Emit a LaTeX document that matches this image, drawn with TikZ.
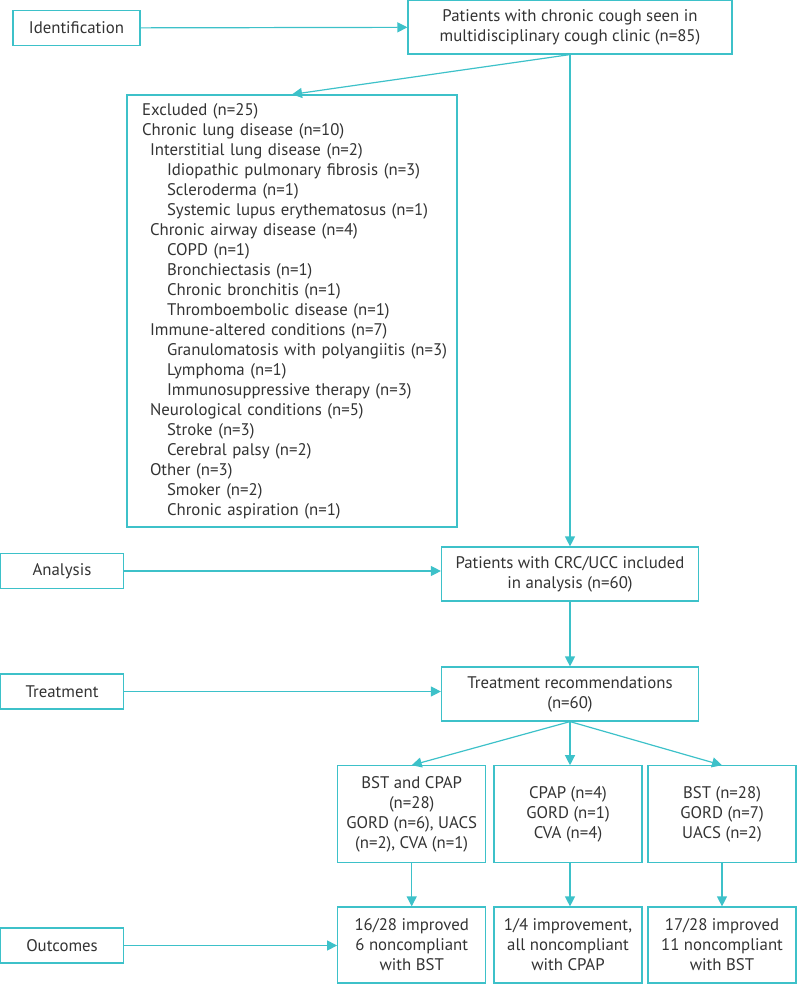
\documentclass[tikz,border=0pt]{standalone}
\usepackage{fontspec}
\setmainfont{PT Sans}
\usetikzlibrary{arrows.meta,positioning}
\definecolor{flowteal}{RGB}{61,193,201}
\definecolor{flowtext}{RGB}{51,51,51}

\begin{document}
\begin{tikzpicture}[
    x=1pt, y=-1pt,
    box/.style={rectangle, draw=flowteal, line width=1.2pt, text=flowtext, font=\fontsize{16.8}{20}\selectfont, align=center, inner sep=0pt},
    stage/.style={box, minimum width=123pt, minimum height=35pt},
    main/.style={box, minimum width=257pt, minimum height=54pt},
    branch/.style={box, minimum width=148pt},
    arrow/.style={-{Triangle[length=10pt,width=10pt]}, line width=1.2pt, flowteal}
]
\useasboundingbox (0,0) rectangle (796,1004);

% Stage labels
\node[stage, minimum width=127pt] (ident) at (76.5,28) {Identification};
\node[stage] (analysis) at (62,571) {Analysis};
\node[stage] (treat) at (62,691.5) {Treatment};
\node[stage] (outcome) at (62,945.5) {Outcomes};

% Main column
\node[main, minimum width=324pt] (seen) at (570,27) {Patients with chronic cough seen in\\multidisciplinary cough clinic (n=85)};
\node[main] (crc) at (570,574) {Patients with CRC/UCC included\\in analysis (n=60)};
\node[main] (recs) at (570,694) {Treatment recommendations\\(n=60)};

% Exclusions
\node[box, minimum width=330pt, minimum height=432pt, text width=300pt, align=left] (excl) at (292,311) {%
Excluded (n=25)\\
Chronic lung disease (n=10)\\
\hspace*{8pt}Interstitial lung disease (n=2)\\
\hspace*{25pt}Idiopathic pulmonary fibrosis (n=3)\\
\hspace*{25pt}Scleroderma (n=1)\\
\hspace*{25pt}\mbox{Systemic lupus erythematosus (n=1)}\\
\hspace*{8pt}Chronic airway disease (n=4)\\
\hspace*{25pt}COPD (n=1)\\
\hspace*{25pt}Bronchiectasis (n=1)\\
\hspace*{25pt}Chronic bronchitis (n=1)\\
\hspace*{25pt}Thromboembolic disease (n=1)\\
\hspace*{8pt}Immune-altered conditions (n=7)\\
\hspace*{25pt}\mbox{Granulomatosis with polyangiitis (n=3)}\\
\hspace*{25pt}Lymphoma (n=1)\\
\hspace*{25pt}\mbox{Immunosuppressive therapy (n=3)}\\
\hspace*{8pt}Neurological conditions (n=5)\\
\hspace*{25pt}Stroke (n=3)\\
\hspace*{25pt}Cerebral palsy (n=2)\\
\hspace*{8pt}Other (n=3)\\
\hspace*{25pt}Smoker (n=2)\\
\hspace*{25pt}Chronic aspiration (n=1)};

% Treatment branches
\node[branch, minimum height=97pt] (both) at (411.7,814.3) {BST and CPAP\\(n=28)\\GORD (n=6), UACS\\(n=2), CVA (n=1)};
\node[branch, minimum height=97pt] (cpap) at (568,814.3) {CPAP (n=4)\\GORD (n=1)\\CVA (n=4)};
\node[branch, minimum height=97pt] (bst) at (722,814.3) {BST (n=28)\\GORD (n=7)\\UACS (n=2)};

% Outcomes
\node[branch, minimum height=76pt] (bothout) at (411.7,945) {16/28 improved\\6 noncompliant\\with BST};
\node[branch, minimum height=76pt] (cpapout) at (568,945) {1/4 improvement,\\all noncompliant\\with CPAP};
\node[branch, minimum height=76pt] (bstout) at (722,945) {17/28 improved\\11 noncompliant\\with BST};

% Arrows
\draw[arrow] (ident) -- (seen);
\draw[arrow] (seen.south) -- (excl.north);
\draw[arrow] (seen.south) -- (crc.north);
\draw[arrow] (analysis) -- (analysis -| crc.west);
\draw[arrow] (crc) -- (recs);
\draw[arrow] (treat) -- (treat -| recs.west);
\draw[arrow] (recs.south) -- (both.north);
\draw[arrow] (recs.south) -- (recs.south |- cpap.north);
\draw[arrow] (recs.south) -- (bst.north);
\draw[arrow] (both) -- (bothout);
\draw[arrow] (recs.south |- cpap.south) -- (recs.south |- cpapout.north);
\draw[arrow] (bst) -- (bstout);
\draw[arrow] (outcome) -- (outcome -| bothout.west);

\end{tikzpicture}
\end{document}
